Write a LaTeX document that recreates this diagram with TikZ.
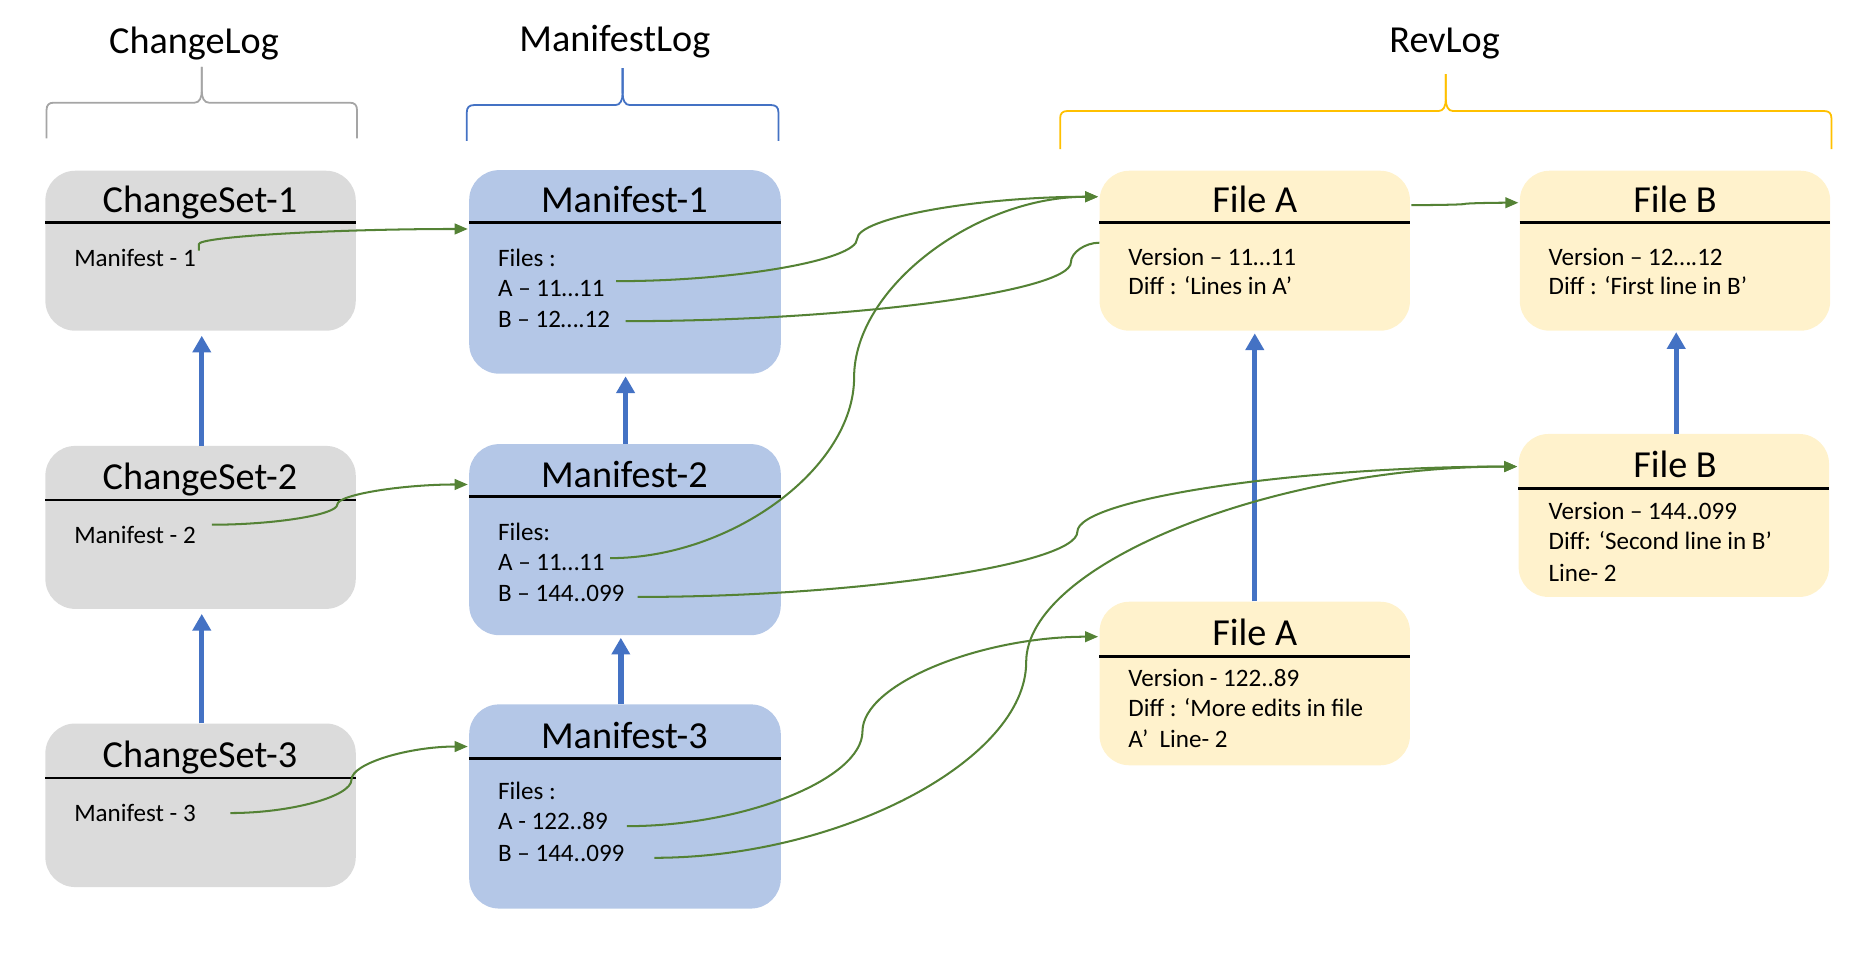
\documentclass[tikz,border=0pt]{standalone}
\usepackage{fontspec}
\setmainfont{Carlito}
\usetikzlibrary{arrows.meta,calc}
\definecolor{boxgray}{HTML}{DBDBDB}
\definecolor{boxblue}{HTML}{B4C7E7}
\definecolor{boxyellow}{HTML}{FFF2CC}
\definecolor{lnkgreen}{HTML}{548235}
\definecolor{arrblue}{HTML}{4472C4}
\definecolor{brgray}{HTML}{A5A5A5}
\definecolor{bryellow}{HTML}{FFC000}
\newcommand\logbrace[6]{%
  \draw[#1, line width=1.5pt] (#2,#4) -- (#2,#5+6) .. controls (#2,#5+2) and (#2+2,#5) .. (#2+6,#5)
    -- ({(#2+#3)/2-6},#5) .. controls ({(#2+#3)/2-2},#5) and ({(#2+#3)/2},#5-4) .. ({(#2+#3)/2},#5-10)
    -- ({(#2+#3)/2},#6);
  \draw[#1, line width=1.5pt] ({(#2+#3)/2},#6) -- ({(#2+#3)/2},#5-10)
    .. controls ({(#2+#3)/2},#5-4) and ({(#2+#3)/2+2},#5) .. ({(#2+#3)/2+6},#5)
    -- (#3-6,#5) .. controls (#3-2,#5) and (#3,#5+2) .. (#3,#5+6) -- (#3,#4);
}
\begin{document}
\begin{tikzpicture}[x=1pt,y=-1pt,
  box/.style={rounded corners=25pt, inner sep=0pt, minimum width=260pt},
  gbox/.style={box, fill=boxgray},
  bbox/.style={box, fill=boxblue},
  ybox/.style={box, fill=boxyellow},
  hdr/.style={font=\fontsize{32}{38}\selectfont, anchor=base, inner sep=0pt},
  ttl/.style={font=\fontsize{32}{38}\selectfont, anchor=base, inner sep=0pt},
  body/.style={font=\fontsize{21}{25}\selectfont, anchor=base west, inner sep=0pt},
  sepline/.style={line width=2pt, black},
  uparrow/.style={arrblue, line width=4.5pt, -{Triangle[length=14pt,width=15pt]}},
  link/.style={lnkgreen, line width=1.7pt, -{Triangle[length=11pt,width=9pt]}},
  plainlink/.style={lnkgreen, line width=1.7pt},
  scurve/.style 2 args={to path={let \p1=(\tikztostart), \p2=(\tikztotarget),
     \n1={\x1+#1*(\x2-\x1)}, \n2={\y1+#2*(\y2-\y1)} in
     .. controls ({(\x1+\n1*1pt)/2},\y1) and ({\n1*1pt},{(\y1+\n2*1pt)/2}) .. ({\n1*1pt},{\n2*1pt})
     .. controls ({\n1*1pt},{(\n2*1pt+\y2)/2}) and ({(\n1*1pt+\x2)/2},\y2) .. (\tikztotarget)}}
]
\useasboundingbox (0,0) rectangle (1568,814);

% headers and braces
\node[hdr] (hcl) at (162.5,44.5) {ChangeLog};
\node[hdr] (hml) at (515,43) {ManifestLog};
\node[hdr] (hrl) at (1210,44) {RevLog};
\logbrace{brgray}{39}{299}{116}{86}{56}
\logbrace{arrblue}{391}{652}{118}{88}{57}
\logbrace{bryellow}{888}{1534}{125}{93}{62}

% boxes
\node[gbox, minimum height=134pt] (cs1) at (168,210) {};
\node[gbox, minimum height=136.5pt] (cs2) at (168,441.75) {};
\node[gbox, minimum height=137pt] (cs3) at (168,674.5) {};
\node[bbox, minimum width=261pt, minimum height=170.5pt] (m1) at (523.5,227.75) {};
\node[bbox, minimum width=261pt, minimum height=160pt] (m2) at (523.5,452) {};
\node[bbox, minimum width=261pt, minimum height=171pt] (m3) at (523.5,675.5) {};
\node[ybox, minimum height=134pt] (fa1) at (1051,210) {};
\node[ybox, minimum height=134pt] (fb1) at (1403,210) {};
\node[ybox, minimum height=136.5pt] (fb2) at (1402,431.75) {};
\node[ybox, minimum height=137pt] (fa2) at (1051,572.5) {};

\foreach \n/\d in {cs1/43.5, cs2/45.5, cs3/46, m1/44, m2/44, m3/45.5, fa1/43.5, fb1/43.5, fb2/46, fa2/46}
  \draw[sepline] ($(\n.north west)+(0,\d)$) -- ($(\n.north east)+(0,\d)$);

% titles
\node[ttl] (cs1h) at (167.5,178) {ChangeSet-1};
\node[ttl] (cs2h) at (167.5,410) {ChangeSet-2};
\node[ttl] (cs3h) at (167.5,643) {ChangeSet-3};
\node[ttl] (m1h) at (523,178) {Manifest-1};
\node[ttl] (m2h) at (523,408.5) {Manifest-2};
\node[ttl] (m3h) at (523,627) {Manifest-3};
\node[ttl] (fa1h) at (1051,178) {File A};
\node[ttl] (fb1h) at (1403,178) {File B};
\node[ttl] (fb2h) at (1403,400) {File B};
\node[ttl] (fa2h) at (1051,541) {File A};

% body texts
\node[body] (cs1t) at (62,223) {Manifest - 1};
\node[body] (cs2t) at (62,455) {Manifest - 2};
\node[body] (cs3t) at (62,688) {Manifest - 3};
\node[body] (m1f) at (417,223) {Files :};
\node[body] (m1a) at (417,248) {A – 11…11};
\node[body] (m1b) at (417,274) {B – 12….12};
\node[body] (m2f) at (417,453) {Files:};
\node[body] (m2a) at (417,478) {A – 11…11};
\node[body] (m2b) at (417,504) {B – 144..099};
\node[body] (m3f) at (417,670) {Files :};
\node[body] (m3a) at (417,695) {A - 122..89};
\node[body] (m3b) at (417,722) {B – 144..099};
\node[body] (fa1v) at (945,222) {Version – 11…11};
\node[body] (fa1d) at (945,247) {Diff : ‘Lines in A’};
\node[body] (fb1v) at (1297,222) {Version – 12….12};
\node[body] (fb1d) at (1297,247) {Diff : ‘First line in B’};
\node[body] (fb2v) at (1297,435.5) {Version – 144..099};
\node[body] (fb2d) at (1297,460.5) {Diff: ‘Second line in B’};
\node[body] (fb2l) at (1297,487) {Line- 2};
\node[body] (fa2v) at (945,575) {Version - 122..89};
\node[body] (fa2d) at (945,600) {Diff : ‘More edits in file};
\node[body] (fa2l) at (945,626) {A’\ \ Line- 2};

% blue history arrows
\draw[uparrow] ($(cs2.north)+(1,0)$) -- ($(cs1.south)+(1,4)$);
\draw[uparrow] ($(cs3.north)+(1,0)$) -- ($(cs2.south)+(1,4)$);
\draw[uparrow] ($(m2.north)+(0.5,0)$) -- ($(m1.south)+(0.5,2)$);
\draw[uparrow] ($(m3.north)+(-3.5,0)$) -- ($(m2.south)+(-3.5,2)$);
\draw[uparrow] (fa2.north) -- ($(fa1.south)+(0,2)$);
\draw[uparrow] ($(fb2.north)+(2,0)$) -- ($(fb1.south)+(1,1)$);

% green link connectors
\coordinate (s1) at (166.5,210);
\coordinate (s2) at (177.5,439.5);
\coordinate (s3) at (193,681);
\coordinate (s4) at (516,235.5);
\coordinate (s5) at (524,269);
\coordinate (s6) at (511,467.5);
\coordinate (s7) at (534,500);
\coordinate (s8) at (525,692);
\coordinate (s9) at (548,718.5);
\coordinate (s10) at ($(fa1.north east)+(1,29)$);

\draw[link] (s1) to[scurve={0}{0.3}] ($(m1.north west)+(-1,49.5)$);
\draw[link] (s2) to[scurve={0.49}{0.5}] ($(m2.north west)+(-1,34)$);
\draw[link] (s3) to[scurve={0.51}{0.5}] ($(m3.north west)+(-1,35.5)$);
\draw[link] (s4) to[scurve={0.5}{0.5}] ($(fa1.north west)+(-1,22)$);
\draw[plainlink] (s5) to[scurve={0.94}{0.75}] ($(fa1.north west)+(0,60.5)$);
\draw[link] (s6) to[scurve={0.5}{0.5}] ($(fa1.north west)+(-1,22)$);
\draw[link] (s7) to[scurve={0.5}{0.5}] ($(fb2.north west)+(-1,27.5)$);
\draw[link] (s8) to[scurve={0.5}{0.5}] ($(fa2.north west)+(-1,29.5)$);
\draw[link] (s9) to[scurve={0.431}{0.5}] ($(fb2.north west)+(-1,27.5)$);
\draw[link] (s10) to[scurve={0.5}{0.5}] ($(fb1.north west)+(-1,27)$);
\end{tikzpicture}
\end{document}
